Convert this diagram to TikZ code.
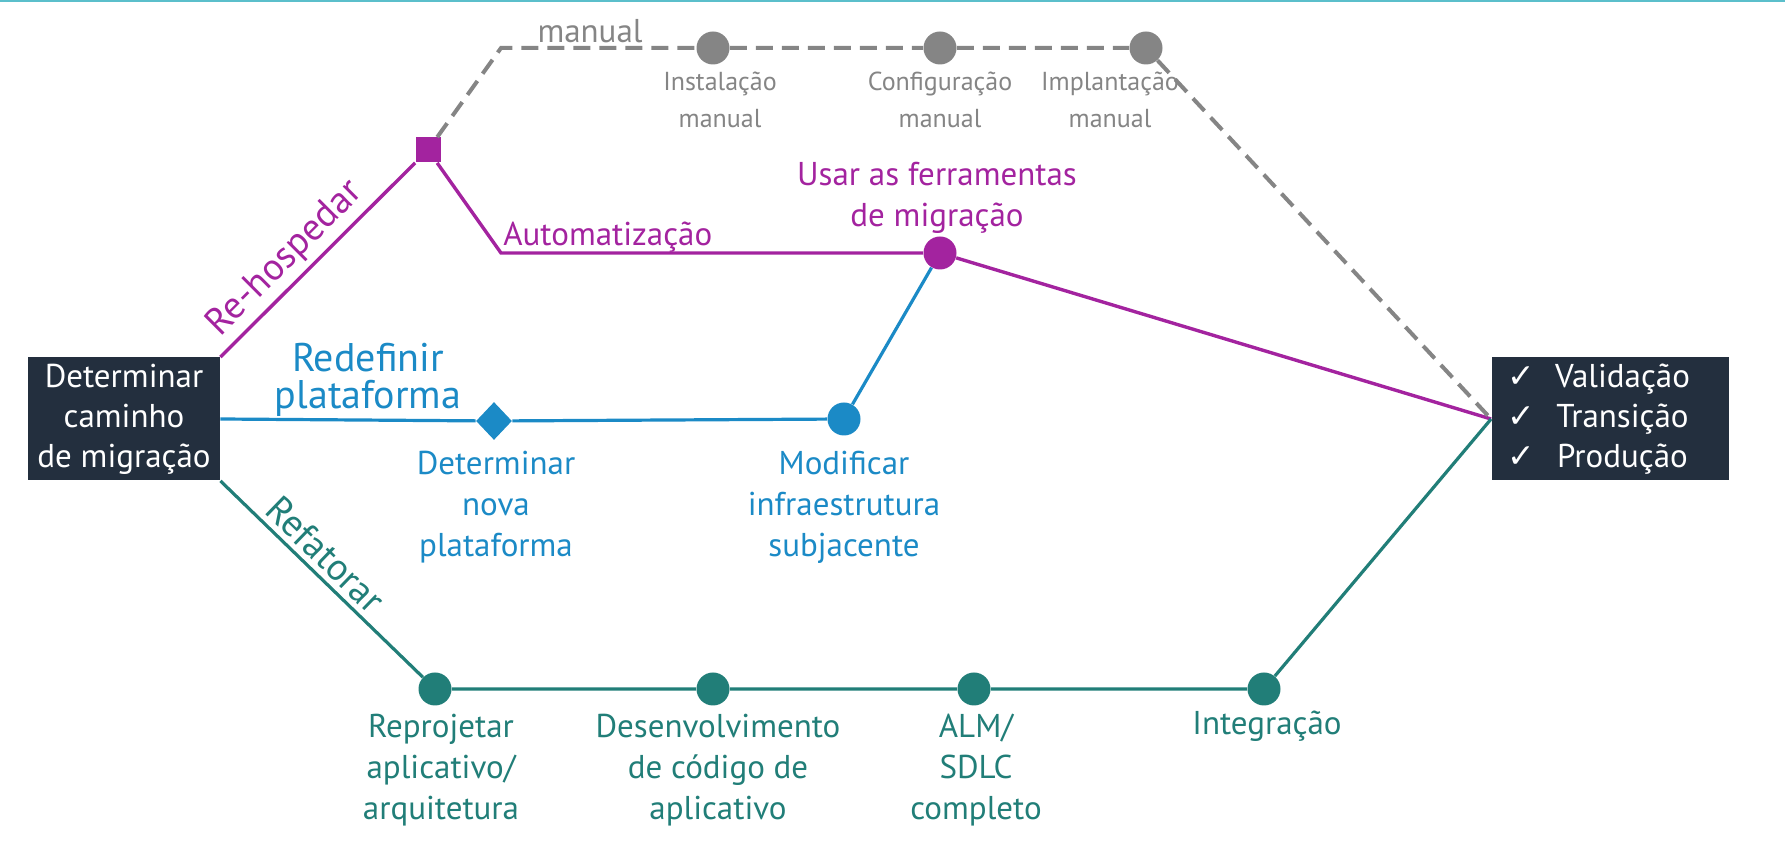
\documentclass[tikz,border=0pt]{standalone}
\usepackage{fontspec}
\setmainfont{PT Sans}
\newfontfamily\checkfont{DejaVu Sans}
\usetikzlibrary{calc,positioning,shapes.geometric}
\definecolor{navy}{HTML}{232F3E}
\definecolor{rehost}{HTML}{A3239F}
\definecolor{replat}{HTML}{1B8AC6}
\definecolor{refact}{HTML}{217E78}
\definecolor{mangrey}{HTML}{858585}
\definecolor{topbar}{HTML}{5BBFCB}

\begin{document}
\begin{tikzpicture}[x=0.5pt,y=-0.5pt]

\tikzset{darkbox/.style={fill=navy,text=white,font=\fontsize{16.5}{20}\selectfont,align=center,inner sep=0pt,minimum height=61.5pt},
dot/.style={circle,inner sep=0pt,minimum size=16.5pt},
steptext/.style={font=\fontsize{16.5}{20.5}\selectfont,align=center,inner sep=0pt},
mantext/.style={font=\fontsize{13}{18.5}\selectfont,align=center,inner sep=0pt,text=mangrey},
pathname/.style={font=\fontsize{19}{19}\selectfont,inner sep=2.5pt},
rhline/.style={rehost,line width=1.7pt},
rpline/.style={replat,line width=1.6pt},
rfline/.style={refact,line width=1.6pt},
manline/.style={mangrey,line width=2pt,dash pattern=on 8.5pt off 4.5pt}}

\useasboundingbox (0,0) rectangle (1785,854);
\draw[topbar,line width=1pt] (0,1) -- (1785,1);

% start and end boxes
\node[darkbox,minimum width=96pt] (start) at (124,419) {Determinar\\caminho\\de migração};
\node[darkbox,minimum width=118.5pt,text width=118.5pt,align=left] (done) at (1610,419) {%
\hspace*{8pt}\makebox[10pt][l]{\checkfont ✓}\makebox[95pt]{Validação}\\
\hspace*{8pt}\makebox[10pt][l]{\checkfont ✓}\makebox[95pt]{Transição}\\
\hspace*{8pt}\makebox[10pt][l]{\checkfont ✓}\makebox[95pt]{Produção}};

% Re-hospedar nodes
\node[fill=rehost,inner sep=0pt,minimum size=12.5pt] (sq) at (428,150) {};
\coordinate (gbend) at (501,48);
\coordinate (pbend) at (501,253);
\node[dot,fill=rehost] (tool) at (940,253) {};
\foreach \x/\n in {713/m1,940/m2,1146/m3} \node[dot,fill=mangrey] (\n) at (\x,48) {};

% Redefinir plataforma nodes
\node[diamond,fill=replat,inner sep=0pt,minimum width=18pt,minimum height=19pt] (newplat) at (494,421) {};
\node[dot,fill=replat] (infra) at (844,419) {};

% Refatorar nodes
\foreach \x/\n in {435/r1,713/r2,974/r3,1264/r4} \node[dot,fill=refact] (\n) at (\x,689) {};

% Edges
\draw[rhline] (start.north east) -- node[sloped,above,pos=0.42,pathname,text=rehost] {Re-hospedar} (sq);
\draw[rhline] (sq) -- (pbend) -- (tool) -- (done.west);
\draw[manline] (sq) -- (gbend) -- (m1) -- (m2) -- (m3) -- (done.west);
\draw[rpline] (start.east) -- (newplat) -- (infra) -- (tool);
\draw[rfline] (start.south east) -- node[sloped,above,pos=0.45,pathname,text=refact] {Refatorar} (r1);
\draw[rfline] (r1) -- (r2) -- (r3) -- (r4) -- (done.west);

% Labels
\node[mantext,font=\fontsize{16.5}{18}\selectfont] (manlbl) at (590,31) {manual};
\node[mantext] (m1lbl) at (720,100) {Instalação\\manual};
\node[mantext] (m2lbl) at (940,100) {Configuração\\manual};
\node[mantext] (m3lbl) at (1110,100) {Implantação\\manual};
\node[steptext,text=rehost,anchor=west] (autolbl) at (503,237) {Automatização};
\node[steptext,text=rehost] (toollbl) at (937,198) {Usar as ferramentas\\de migração};
\node[steptext,text=replat,font=\fontsize{20}{18.5}\selectfont] (rplbl) at (368,380) {Redefinir\\plataforma};
\node[steptext,text=replat] (newplatlbl) at (496,507) {Determinar\\nova\\plataforma};
\node[steptext,text=replat] (infralbl) at (844,507) {Modificar\\infraestrutura\\subjacente};
\node[steptext,text=refact] (r1lbl) at (441,770) {Reprojetar\\aplicativo/\\arquitetura};
\node[steptext,text=refact] (r2lbl) at (718,770) {Desenvolvimento\\de código de\\aplicativo};
\node[steptext,text=refact] (r3lbl) at (976,770) {ALM/\\SDLC\\completo};
\node[steptext,text=refact] (r4lbl) at (1267,726) {Integração};

\end{tikzpicture}
\end{document}
